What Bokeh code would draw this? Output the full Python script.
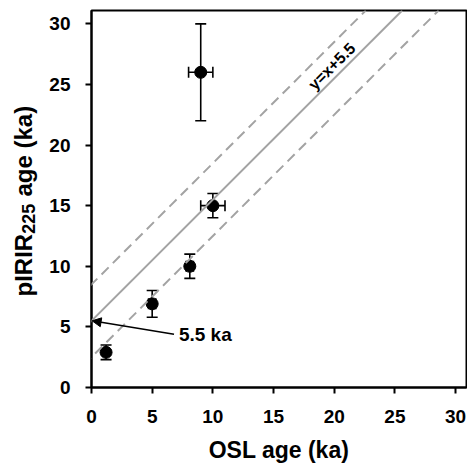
import numpy as np
from bokeh.plotting import figure
from bokeh.layouts import row
from bokeh.models import (Range1d, Whisker, TeeHead, ColumnDataSource, Slope,
                          Arrow, NormalHead, Label, FixedTicker)
from bokeh.embed import file_html
from bokeh.resources import INLINE
from bokeh.core.properties import value

# ---- data ----
osl_age = [1.2, 5.0, 8.1, 9.0, 10.0]
osl_err = [0.0, 0.3, 0.3, 1.0, 1.0]
pirir_age = [2.9, 6.9, 10.0, 26.0, 15.0]
pirir_err = [0.6, 1.1, 1.0, 4.0, 1.0]
tick_values = [0, 5, 10, 15, 20, 25, 30]
line_offset = 5.5
band_half = 3.0
line_label = "y=x+5.5"
arrow_label = "5.5 ka"
ylabel_parts = ["pIRIR", "225", "age (ka)"]

FONT = "Liberation Sans"
GRAY = "#a3a3a3"
W, H = 467, 468
LEFT_W = 40
FRAME_TOP, FRAME_BOTTOM = 10, 387   # frame edges in page pixels

# ---- narrow figure that only carries the rotated y-axis title ----
# its frame is aligned with the main frame by the row layout, so map it to page pixels
lab = figure(width=LEFT_W, height=H, output_backend="svg", toolbar_location=None,
             x_range=Range1d(0, LEFT_W), y_range=Range1d(H - FRAME_BOTTOM, H - FRAME_TOP),
             x_axis_type=None, y_axis_type=None,
             min_border_left=0, min_border_right=0, min_border_top=0, min_border_bottom=0)
lab.outline_line_color = None
lab.grid.visible = False
lab.background_fill_color = "white"
lab.border_fill_color = "white"
ysrc = ColumnDataSource(dict(
    x=[23.4, 27.8, 23.4],
    y=[H - 296, H - 233.3, H - 196.0],
    text=ylabel_parts,
    size=["24px", "18px", "24px"],
))
lab.text(x="x", y="y", text="text", source=ysrc, angle=np.pi / 2,
         text_align="left", text_baseline="middle",
         text_font=value(FONT), text_font_style="bold", text_font_size="size",
         text_color="black")

# ---- main plot ----
p = figure(width=W - LEFT_W, height=H, output_backend="svg", toolbar_location=None,
           x_range=Range1d(0, 30.9), y_range=Range1d(0, 31.1),
           min_border_left=91 - LEFT_W, min_border_right=1, min_border_top=FRAME_TOP,
           min_border_bottom=H - FRAME_BOTTOM)
p.background_fill_color = "white"
p.border_fill_color = "white"
p.outline_line_color = "black"
p.outline_line_width = 2
p.grid.visible = False

for ax in (p.xaxis[0], p.yaxis[0]):
    ax.ticker = FixedTicker(ticks=tick_values)
    ax.axis_line_width = 2
    ax.axis_line_color = "black"
    ax.major_tick_line_width = 2
    ax.major_tick_line_color = "black"
    ax.major_tick_out = 6
    ax.major_tick_in = 0
    ax.minor_tick_out = 0
    ax.minor_tick_in = 0
    ax.major_label_text_font = FONT
    ax.major_label_text_font_style = "bold"
    ax.major_label_text_font_size = "19px"
    ax.major_label_text_color = "black"

p.xaxis.major_label_standoff = 16
p.yaxis.major_label_standoff = 15
p.xaxis.axis_label = "OSL age (ka)"
p.xaxis.axis_label_text_font = FONT
p.xaxis.axis_label_text_font_style = "bold"
p.xaxis.axis_label_text_font_size = "23px"
p.xaxis.axis_label_text_color = "black"
p.xaxis.axis_label_standoff = 11

# reference lines
p.add_layout(Slope(gradient=1, y_intercept=line_offset, line_color=GRAY, line_width=2))
p.add_layout(Slope(gradient=1, y_intercept=line_offset + band_half, line_color=GRAY,
                   line_width=2, line_dash="10 6"))
p.add_layout(Slope(gradient=1, y_intercept=line_offset - band_half, line_color=GRAY,
                   line_width=2, line_dash="10 6"))

# error bars
src = ColumnDataSource(dict(
    x=osl_age, y=pirir_age,
    ylo=[a - e for a, e in zip(pirir_age, pirir_err)],
    yhi=[a + e for a, e in zip(pirir_age, pirir_err)],
))
xs = [(a, e, y) for a, e, y in zip(osl_age, osl_err, pirir_age) if e > 0]
srcx = ColumnDataSource(dict(
    y=[t[2] for t in xs],
    xlo=[t[0] - t[1] for t in xs],
    xhi=[t[0] + t[1] for t in xs],
))

def tee():
    return TeeHead(size=11, line_width=1.6, line_color="black")

p.add_layout(Whisker(source=src, base="x", lower="ylo", upper="yhi", dimension="height",
                     line_width=1.6, line_color="black",
                     lower_head=tee(), upper_head=tee()))
p.add_layout(Whisker(source=srcx, base="y", lower="xlo", upper="xhi", dimension="width",
                     line_width=1.6, line_color="black",
                     lower_head=tee(), upper_head=tee()))

p.scatter(x="x", y="y", source=src, size=12, marker="circle",
          fill_color="black", line_color="black")

# label along line
p.text(x=[19.8], y=[26.5], text=[line_label], angle=45, angle_units="deg",
       text_font=value(FONT), text_font_style="bold", text_font_size="16px",
       text_align="center", text_baseline="middle", text_color="black")

# arrow and annotation
p.add_layout(Arrow(x_start=6.8, y_start=4.4, x_end=0.05, y_end=line_offset,
                   line_width=1.5, line_color="black",
                   end=NormalHead(size=9, fill_color="black", line_color="black")))
p.add_layout(Label(x=7.2, y=4.4, text=arrow_label, text_baseline="middle",
                   text_align="left", text_font=FONT, text_font_style="bold",
                   text_font_size="19px", text_color="black"))

layout = row(lab, p)
open("out.html", "w").write(file_html(layout, INLINE))
